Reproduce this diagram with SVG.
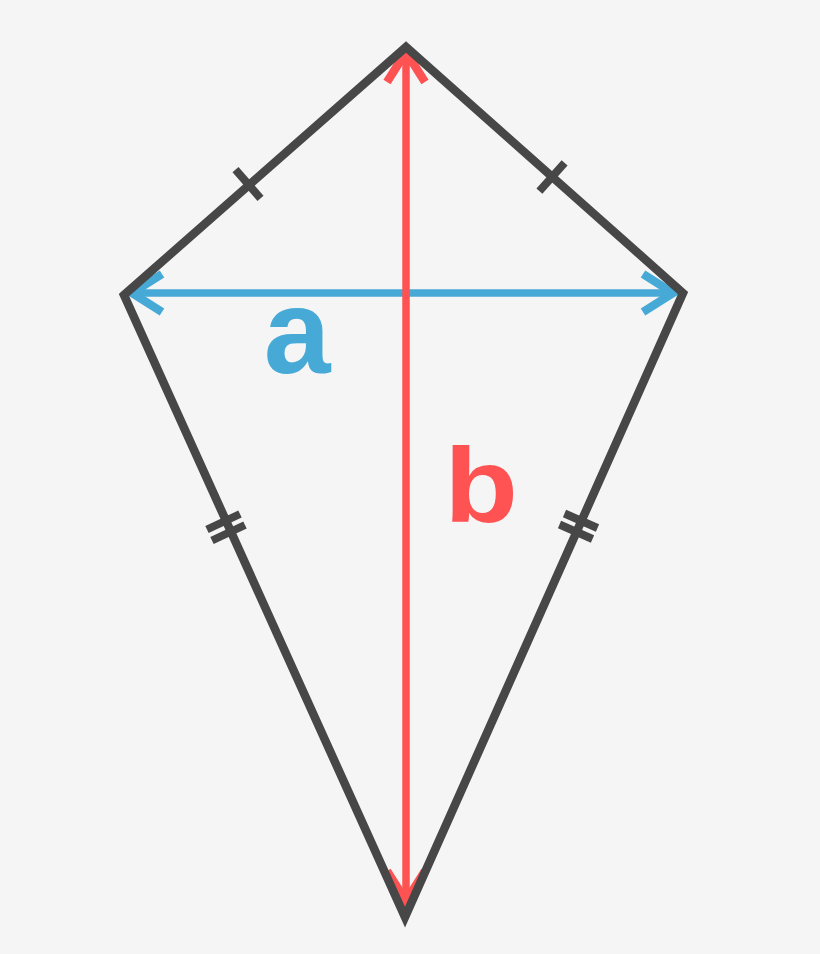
<svg xmlns="http://www.w3.org/2000/svg" width="820" height="954" viewBox="0 0 820 954">
<style>
.edge{fill:none;stroke:#474747;stroke-width:8.5;stroke-linejoin:miter;stroke-miterlimit:10}
.tick{stroke:#474747;stroke-width:8;stroke-linecap:butt}
.blue{stroke:#47A9D6;stroke-width:7.5;fill:none}
.red{stroke:#FF5252;stroke-width:7.5;fill:none}
.lbl{font-family:"Liberation Sans",Arial,sans-serif;font-weight:bold;text-anchor:middle}
</style>
<defs>
<marker id="arrB" markerUnits="userSpaceOnUse" viewBox="-40 -30 50 60" markerWidth="50" markerHeight="60" refX="0" refY="0" orient="auto-start-reverse" overflow="visible">
<path d="M-30,-19 L0,0 L-30,19" fill="none" stroke="#47A9D6" stroke-width="8.5" stroke-linejoin="miter"/>
</marker>
<marker id="arrR" markerUnits="userSpaceOnUse" viewBox="-40 -30 50 60" markerWidth="50" markerHeight="60" refX="0" refY="0" orient="auto-start-reverse" overflow="visible">
<path d="M-30,-19 L0,0 L-30,19" fill="none" stroke="#FF5252" stroke-width="8.5" stroke-linejoin="miter"/>
</marker>
</defs>
<rect width="820" height="954" fill="#F5F5F5"/>
<g id="connectors">
<line id="diag-a" class="blue" x1="132" y1="293" x2="673" y2="293" marker-start="url(#arrB)" marker-end="url(#arrB)"/>
<line id="diag-b" class="red" x1="406" y1="52" x2="406" y2="901" marker-start="url(#arrR)" marker-end="url(#arrR)"/>
</g>
<g id="kite">
<polygon class="edge" points="124,295 406,47 683,293 405,917"/>
</g>
<g id="ticks">
<line class="tick" x1="235.5" y1="169.7" x2="260.5" y2="198.3"/>
<line class="tick" x1="539.4" y1="191.1" x2="564.6" y2="162.9"/>
<line class="tick" x1="207" y1="529.5" x2="240" y2="514"/>
<line class="tick" x1="212" y1="540.5" x2="245" y2="525"/>
<line class="tick" x1="564.5" y1="513.5" x2="597.5" y2="528"/>
<line class="tick" x1="559.5" y1="524.5" x2="592.5" y2="539"/>
</g>
<g id="label-a"><text class="lbl" x="297" y="373" font-size="120" fill="#47A9D6">a</text></g>
<g id="label-b"><text class="lbl" transform="translate(481 522) scale(1.15 1)" x="0" y="0" font-size="105" fill="#FF5252">b</text></g>
</svg>
